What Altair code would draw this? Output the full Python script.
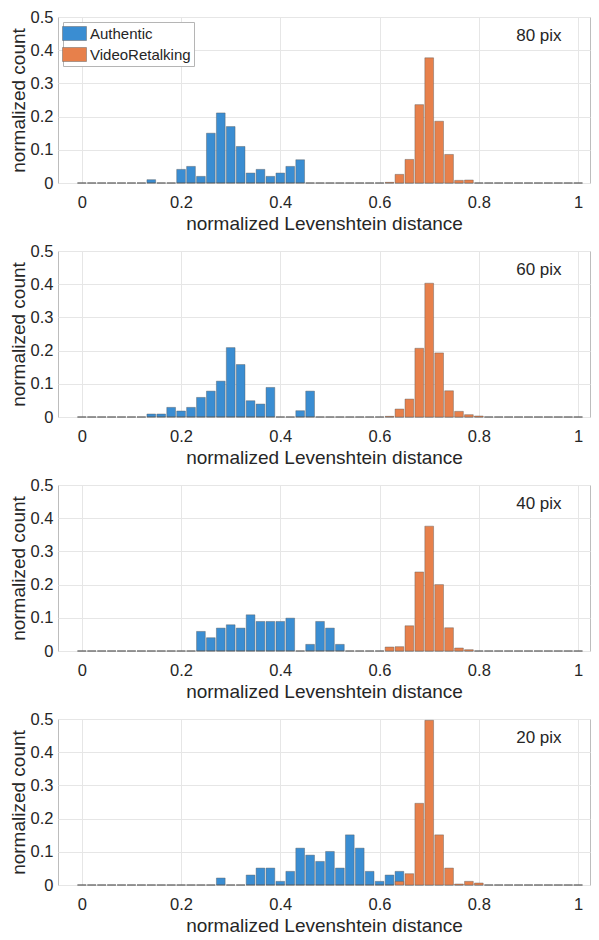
import altair as alt
import pandas as pd

# ---------------- data ----------------
panels = ["80 pix", "60 pix", "40 pix", "20 pix"]
series = ["Authentic", "VideoRetalking"]
colors = ["#3a8dd2", "#e7804b"]

# bin centres of the histogram (bin width 0.02)
bin_centers = [0.00, 0.02, 0.04, 0.06, 0.08, 0.10, 0.12, 0.14, 0.16, 0.18,
               0.20, 0.22, 0.24, 0.26, 0.28, 0.30, 0.32, 0.34, 0.36, 0.38,
               0.40, 0.42, 0.44, 0.46, 0.48, 0.50, 0.52, 0.54, 0.56, 0.58,
               0.60, 0.62, 0.64, 0.66, 0.68, 0.70, 0.72, 0.74, 0.76, 0.78,
               0.80, 0.82, 0.84, 0.86, 0.88, 0.90, 0.92, 0.94, 0.96, 0.98, 1.00]

# Authentic: first non-empty bin centre and consecutive bin values
auth_first = [0.14, 0.14, 0.24, 0.28]
auth_80 = [0.010, 0, 0, 0.041, 0.050, 0.020, 0.150, 0.211, 0.170, 0.110,
           0.030, 0.041, 0.020, 0.030, 0.050, 0.070]
auth_60 = [0.009, 0.009, 0.029, 0.018, 0.029, 0.059, 0.078, 0.108, 0.209,
           0.158, 0.049, 0.039, 0.089, 0, 0, 0.019, 0.078]
auth_40 = [0.059, 0.040, 0.069, 0.079, 0.069, 0.109, 0.089, 0.089, 0.089,
           0.099, 0, 0.020, 0.089, 0.069, 0.020]
auth_20 = [0.021, 0, 0, 0.030, 0.051, 0.051, 0.011, 0.041, 0.111, 0.090,
           0.071, 0.101, 0.051, 0.151, 0.111, 0.041, 0.011, 0.030, 0.041]

# VideoRetalking
vr_first = [0.62, 0.62, 0.62, 0.64]
vr_80 = [0.002, 0.026, 0.071, 0.236, 0.377, 0.186, 0.086, 0.008, 0.009]
vr_60 = [0.002, 0.024, 0.054, 0.207, 0.403, 0.193, 0.079, 0.017, 0.007, 0.003]
vr_40 = [0.012, 0.013, 0.076, 0.238, 0.376, 0.200, 0.070, 0.009, 0.004]
vr_20 = [0.011, 0.034, 0.246, 0.496, 0.151, 0.051, 0.003, 0.011, 0.006]

auth_vals = [auth_80, auth_60, auth_40, auth_20]
vr_vals = [vr_80, vr_60, vr_40, vr_20]

x_ticks = [0, 0.2, 0.4, 0.6, 0.8, 1]
y_ticks = [0, 0.1, 0.2, 0.3, 0.4, 0.5]

FONT = "Liberation Sans"
TXT = "#262626"


def full_hist(first, vals):
    start = bin_centers.index(first)
    out = []
    for i, c in enumerate(bin_centers):
        j = i - start
        out.append(vals[j] if 0 <= j < len(vals) else 0.0)
    return out


rows = []
for p, af, av, vf, vv in zip(panels, auth_first, auth_vals, vr_first, vr_vals):
    for name, first, vals in ((series[0], af, av), (series[1], vf, vv)):
        for c, v in zip(bin_centers, full_hist(first, vals)):
            rows.append({"panel": p, "series": name, "center": c, "value": v})
df = pd.DataFrame(rows)

x_axis = alt.Axis(values=x_ticks, format="~g",
                  title="normalized Levenshtein distance",
                  labelPadding=11, titlePadding=4, labelOverlap=False)
y_axis = alt.Axis(values=y_ticks, format="~g", title="normalized count",
                  labelPadding=5, titlePadding=2, labelOverlap=False)
x_scale = alt.Scale(domain=[-0.048, 1.024], nice=False, zero=False)
y_scale = alt.Scale(domain=[0, 0.5], nice=False)


def make_panel(i):
    d = df[df.panel == panels[i]]
    if i == 0:
        legend = alt.Legend(
            title=None, orient="top-left", offset=5,
            fillColor="white", strokeColor="#b5b5b5", padding=3,
            labelFont=FONT, labelFontSize=15, labelColor=TXT,
            symbolType="M-1.5,-0.875H1.5V0.875H-1.5Z", symbolSize=256,
            symbolStrokeWidth=0.5, symbolStrokeColor="#666666",
            labelOffset=7, rowPadding=4, cornerRadius=0,
        )
    else:
        legend = None
    bars = alt.Chart(d).transform_calculate(
        lo="datum.center - 0.0088", hi="datum.center + 0.0088"
    ).mark_rect(stroke="#5a5a5a", strokeWidth=0.6, strokeOpacity=0.7).encode(
        x=alt.X("lo:Q", scale=x_scale, axis=x_axis),
        x2="hi:Q",
        y=alt.Y("value:Q", scale=y_scale, axis=y_axis),
        y2=alt.datum(0),
        color=alt.Color("series:N",
                        scale=alt.Scale(domain=series, range=colors),
                        legend=legend),
    )
    label = alt.Chart(pd.DataFrame({"label": [panels[i]]})).mark_text(
        font=FONT, fontSize=17, color=TXT, align="center", baseline="middle"
    ).encode(
        x=alt.X(datum=0.921, scale=x_scale, axis=x_axis),
        y=alt.Y(datum=0.444, scale=y_scale, axis=y_axis),
        text="label:N",
    )
    return alt.layer(bars, label).properties(width=532, height=166)


chart = alt.vconcat(*[make_panel(i) for i in range(4)], spacing=8).resolve_scale(
    color="independent"
).resolve_legend(color="independent").properties(
    padding={"left": 0, "top": 0, "right": 0, "bottom": 0}
).configure_axis(
    labelFont=FONT, labelFontSize=16.5, labelColor=TXT,
    titleFont=FONT, titleFontSize=19, titleFontWeight="normal", titleColor=TXT,
    gridColor="#e6e6e6", gridWidth=1, domain=False, ticks=False, tickSize=0,
    labelOverlap=False,
).configure_view(stroke="#bdbdbd", strokeWidth=1)

chart.save("out.html", embed_options={"renderer": "svg", "actions": False})
